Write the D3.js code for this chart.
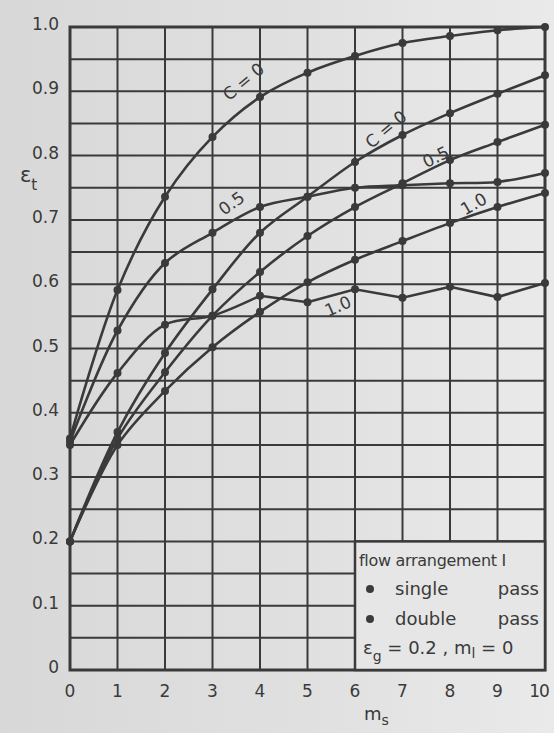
<!DOCTYPE html>
<html>
<head>
<meta charset="utf-8">
<script src="https://cdn.jsdelivr.net/npm/d3@7"></script>
<style>
  body { margin: 0; background: #dcdcdc; }
  svg { display: block; }
</style>
</head>
<body>
<script>
var w = 554,
    h = 733;

var msValues = [0, 1, 2, 3, 4, 5, 6, 7, 8, 9, 10];

// single pass (start near 0.36)
var singleC0  = [0.36, 0.591, 0.736, 0.829, 0.891, 0.929, 0.955, 0.975, 0.986, 0.995, 1.0];
var singleC05 = [0.355, 0.528, 0.633, 0.680, 0.720, 0.736, 0.750, 0.754, 0.757, 0.759, 0.773];
var singleC1  = [0.35, 0.462, 0.537, 0.551, 0.582, 0.572, 0.592, 0.579, 0.596, 0.580, 0.602];

// double pass (start at 0.2)
var doubleC0  = [0.2, 0.37, 0.493, 0.592, 0.680, 0.736, 0.790, 0.832, 0.866, 0.896, 0.925];
var doubleC05 = [0.2, 0.36, 0.463, 0.551, 0.619, 0.675, 0.720, 0.757, 0.793, 0.821, 0.848];
var doubleC1  = [0.2, 0.35, 0.434, 0.502, 0.557, 0.603, 0.638, 0.667, 0.695, 0.720, 0.742];

var yTickLabels = ["0", "0.1", "0.2", "0.3", "0.4", "0.5", "0.6", "0.7", "0.8", "0.9", "1.0"];
var xTickLabels = ["0", "1", "2", "3", "4", "5", "6", "7", "8", "9", "10"];

var curveLabels = [
  {text: "C = 0", x: 3.65, y: 0.915, rot: -40},
  {text: "0.5",   x: 3.4,  y: 0.726, rot: -36},
  {text: "C = 0", x: 6.65, y: 0.841, rot: -40},
  {text: "0.5",   x: 7.7,  y: 0.798, rot: -26},
  {text: "1.0",   x: 8.5,  y: 0.725, rot: -30},
  {text: "1.0",   x: 5.64, y: 0.566, rot: -24}
];

var x = d3.scaleLinear().domain([0, 10]).range([70, 545]);
var y = d3.scaleLinear().domain([0, 1]).range([670, 27]);

var ink = "#3a3a3a";
var font = "DejaVu Sans";

var svg = d3.select("body").append("svg").attr("width", w).attr("height", h);

var grad = svg.append("defs").append("linearGradient").attr("id", "paper");
grad.append("stop").attr("offset", "0%").attr("stop-color", "#d8d8d8");
grad.append("stop").attr("offset", "60%").attr("stop-color", "#e1e1e1");
grad.append("stop").attr("offset", "100%").attr("stop-color", "#eaeaea");
svg.append("rect").attr("width", w).attr("height", h).attr("fill", "url(#paper)");

// grid
svg.append("g").selectAll("line")
  .data(d3.range(0, 1.0001, 0.05))
  .enter().append("line")
  .attr("x1", x(0)).attr("x2", x(10))
  .attr("y1", function(d) { return y(d); })
  .attr("y2", function(d) { return y(d); })
  .attr("stroke", ink).attr("stroke-width", 2);

svg.append("g").selectAll("line")
  .data(msValues)
  .enter().append("line")
  .attr("x1", function(d) { return x(d); })
  .attr("x2", function(d) { return x(d); })
  .attr("y1", y(0)).attr("y2", y(1))
  .attr("stroke", ink).attr("stroke-width", 2);

svg.append("rect")
  .attr("x", x(0)).attr("y", y(1))
  .attr("width", x(10) - x(0)).attr("height", y(0) - y(1))
  .attr("fill", "none").attr("stroke", ink).attr("stroke-width", 3);

// curves: smooth, except the zigzag tail of single pass C=1.0
var smooth = d3.curveCatmullRom.alpha(0.5);
var series = [
  {vals: singleC0,  split: null},
  {vals: singleC05, split: null},
  {vals: singleC1,  split: 4},
  {vals: doubleC0,  split: null},
  {vals: doubleC05, split: null},
  {vals: doubleC1,  split: null}
];

function lineWith(curve) {
  return d3.line()
    .x(function(d) { return x(d[0]); })
    .y(function(d) { return y(d[1]); })
    .curve(curve);
}

series.forEach(function(s) {
  var pts = s.vals.map(function(v, i) { return [msValues[i], v]; });
  var pieces = s.split === null
    ? [[pts, smooth]]
    : [[pts.slice(0, s.split + 1), smooth], [pts.slice(s.split), d3.curveLinear]];
  pieces.forEach(function(p) {
    svg.append("path")
      .attr("d", lineWith(p[1])(p[0]))
      .attr("fill", "none").attr("stroke", ink).attr("stroke-width", 2.6);
  });
  svg.append("g").selectAll("circle")
    .data(pts)
    .enter().append("circle")
    .attr("cx", function(d) { return x(d[0]); })
    .attr("cy", function(d) { return y(d[1]); })
    .attr("r", 4)
    .attr("fill", ink);
});

// curve labels
svg.append("g").selectAll("text")
  .data(curveLabels)
  .enter().append("text")
  .text(function(d) { return d.text; })
  .attr("transform", function(d) {
    return "translate(" + x(d.x) + "," + y(d.y) + ") rotate(" + d.rot + ")";
  })
  .attr("text-anchor", "middle")
  .attr("dominant-baseline", "central")
  .attr("font-family", font).attr("font-size", 17)
  .attr("fill", ink);

// axis tick labels
svg.append("g").selectAll("text")
  .data(yTickLabels)
  .enter().append("text")
  .text(function(d) { return d; })
  .attr("x", 59)
  .attr("y", function(d, i) { return y(i / 10) - 3; })
  .attr("text-anchor", "end")
  .attr("dominant-baseline", "central")
  .attr("font-family", font).attr("font-size", 17)
  .attr("fill", ink);

svg.append("g").selectAll("text")
  .data(xTickLabels)
  .enter().append("text")
  .text(function(d) { return d; })
  .attr("x", function(d, i) { return i === 10 ? x(i) - 6 : x(i); })
  .attr("y", 697)
  .attr("text-anchor", "middle")
  .attr("font-family", font).attr("font-size", 17)
  .attr("letter-spacing", function(d, i) { return i === 10 ? -1 : 0; })
  .attr("fill", ink);

// axis titles
var ey = svg.append("text").attr("x", 20).attr("y", 182)
  .attr("font-family", font).attr("font-size", 21).attr("fill", ink);
ey.append("tspan").text("ε");
ey.append("tspan").attr("font-size", 15).attr("dy", 8).text("t");

var mx = svg.append("text").attr("x", 364).attr("y", 720)
  .attr("font-family", font).attr("font-size", 18).attr("fill", ink);
mx.append("tspan").text("m");
mx.append("tspan").attr("font-size", 14).attr("dy", 5).text("s");

// legend
var lg = svg.append("g");
lg.append("rect")
  .attr("x", x(6)).attr("y", y(0.2))
  .attr("width", x(10) - x(6)).attr("height", y(0) - y(0.2))
  .attr("fill", "#e6e6e6").attr("stroke", ink).attr("stroke-width", 2.5);

lg.append("text").text("flow arrangement I")
  .attr("x", x(6) + 4).attr("y", 566)
  .attr("font-family", font).attr("font-size", 16).attr("letter-spacing", -0.3)
  .attr("fill", ink);

[["single", 595], ["double", 625]].forEach(function(r) {
  lg.append("circle").attr("cx", x(6) + 15).attr("cy", r[1] - 6).attr("r", 4).attr("fill", ink);
  lg.append("text").text(r[0])
    .attr("x", x(6) + 40).attr("y", r[1])
    .attr("font-family", font).attr("font-size", 18)
    .attr("fill", ink);
  lg.append("text").text("pass")
    .attr("x", x(10) - 6).attr("y", r[1])
    .attr("text-anchor", "end")
    .attr("font-family", font).attr("font-size", 18)
    .attr("fill", ink);
});

var eg = lg.append("text").attr("x", x(6) + 8).attr("y", 654)
  .attr("font-family", font).attr("font-size", 18).attr("fill", ink);
eg.append("tspan").text("ε");
eg.append("tspan").attr("font-size", 14).attr("dy", 7).text("g");
eg.append("tspan").attr("dy", -7).text(" = 0.2 , m");
eg.append("tspan").attr("font-size", 14).attr("dy", 4).text("l");
eg.append("tspan").attr("dy", -4).text(" = 0");
</script>
</body>
</html>
